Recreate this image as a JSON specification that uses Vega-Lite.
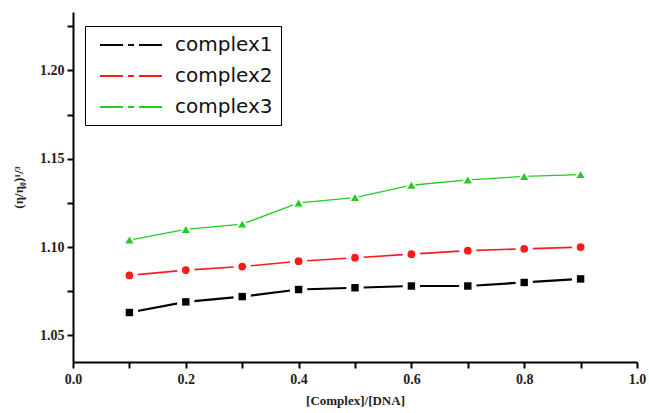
{
  "$schema": "https://vega.github.io/schema/vega-lite/v6.json",
  "width": 564,
  "height": 350,
  "autosize": {"type": "none"},
  "padding": {"left": 73, "top": 12, "right": 12, "bottom": 51},
  "background": "white",
  "config": {
    "view": {"stroke": null},
    "axis": {
      "domainColor": "black",
      "domainWidth": 2,
      "tickColor": "black",
      "tickWidth": 2,
      "tickSize": 6,
      "grid": false,
      "labelFont": "Liberation Serif",
      "labelFontWeight": "bold",
      "labelFontSize": 14,
      "labelColor": "#222222",
      "titleFont": "Liberation Serif",
      "titleFontWeight": "bold",
      "titleFontSize": 13,
      "titleColor": "#222222"
    }
  },
  "data": {
    "values": [
      {"x": 0.1, "y": 1.063, "series": "complex1"},
      {"x": 0.2, "y": 1.069, "series": "complex1"},
      {"x": 0.3, "y": 1.072, "series": "complex1"},
      {"x": 0.4, "y": 1.076, "series": "complex1"},
      {"x": 0.5, "y": 1.077, "series": "complex1"},
      {"x": 0.6, "y": 1.078, "series": "complex1"},
      {"x": 0.7, "y": 1.078, "series": "complex1"},
      {"x": 0.8, "y": 1.080, "series": "complex1"},
      {"x": 0.9, "y": 1.082, "series": "complex1"},
      {"x": 0.1, "y": 1.084, "series": "complex2"},
      {"x": 0.2, "y": 1.087, "series": "complex2"},
      {"x": 0.3, "y": 1.089, "series": "complex2"},
      {"x": 0.4, "y": 1.092, "series": "complex2"},
      {"x": 0.5, "y": 1.094, "series": "complex2"},
      {"x": 0.6, "y": 1.096, "series": "complex2"},
      {"x": 0.7, "y": 1.098, "series": "complex2"},
      {"x": 0.8, "y": 1.099, "series": "complex2"},
      {"x": 0.9, "y": 1.100, "series": "complex2"},
      {"x": 0.1, "y": 1.104, "series": "complex3"},
      {"x": 0.2, "y": 1.110, "series": "complex3"},
      {"x": 0.3, "y": 1.113, "series": "complex3"},
      {"x": 0.4, "y": 1.125, "series": "complex3"},
      {"x": 0.5, "y": 1.128, "series": "complex3"},
      {"x": 0.6, "y": 1.135, "series": "complex3"},
      {"x": 0.7, "y": 1.138, "series": "complex3"},
      {"x": 0.8, "y": 1.140, "series": "complex3"},
      {"x": 0.9, "y": 1.141, "series": "complex3"}
    ]
  },
  "encoding": {
    "x": {
      "field": "x",
      "type": "quantitative",
      "scale": {"domain": [0, 1], "nice": false, "zero": false},
      "axis": {
        "title": "[Complex]/[DNA]",
        "values": [0, 0.1, 0.2, 0.3, 0.4, 0.5, 0.6, 0.7, 0.8, 0.9, 1.0],
        "labelExpr": "round(datum.value*10)%2==0 ? format(datum.value,'.1f') : ''",
        "labelPadding": 4,
        "titlePadding": 8,
        "labelFlush": false,
        "encode": {"ticks": {"y2": {"value": {"expr": "round(datum.value*10)%2==0 ? 6 : 3"}}}}
      }
    },
    "y": {
      "field": "y",
      "type": "quantitative",
      "scale": {"domain": [1.035, 1.233], "nice": false, "zero": false},
      "axis": {
        "title": "(η/η₀)¹/³",
        "values": [1.05, 1.075, 1.1, 1.125, 1.15, 1.175, 1.2, 1.225],
        "labelExpr": "round(datum.value*1000)%50==0 ? format(datum.value,'.2f') : ''",
        "labelPadding": 3,
        "titlePadding": 14,
        "encode": {"ticks": {"x2": {"value": {"expr": "round(datum.value*1000)%50==0 ? -6 : -3"}}}}
      }
    },
    "color": {
      "field": "series",
      "type": "nominal",
      "scale": {"domain": ["complex1", "complex2", "complex3"], "range": ["#000000", "#ff1a1a", "#22cc22"]},
      "legend": null
    }
  },
  "layer": [
    {
      "transform": [{"filter": "datum.series === 'complex1'"}],
      "mark": {"type": "line", "strokeWidth": 2.2},
      "encoding": {
        "color": {
          "field": "series",
          "type": "nominal",
          "legend": {
            "title": null,
            "orient": "none",
            "legendX": 12,
            "legendY": 14,
            "strokeColor": "black",
            "padding": 8,
            "fillColor": "white",
            "symbolType": "M-3.1,0H-0.8M-0.3,0H0.3M0.8,0H3.1",
            "symbolSize": 400,
            "symbolOffset": 27,
            "symbolStrokeWidth": 2,
            "labelOffset": 33,
            "rowPadding": 10,
            "labelFont": "DejaVu Sans",
            "labelFontSize": 20,
            "labelColor": "#111111",
            "labelLimit": 300
          }
        }
      }
    },
    {
      "transform": [{"filter": "datum.series === 'complex2'"}],
      "mark": {"type": "line", "strokeWidth": 1.6}
    },
    {
      "transform": [{"filter": "datum.series === 'complex3'"}],
      "mark": {"type": "line", "strokeWidth": 1.3}
    },
    {
      "transform": [{"filter": "datum.series === 'complex1'"}],
      "mark": {"type": "point", "shape": "square", "filled": true, "opacity": 1},
      "encoding": {"color": {"value": "white"}, "size": {"value": 300}}
    },
    {
      "transform": [{"filter": "datum.series === 'complex2'"}],
      "mark": {"type": "point", "shape": "circle", "filled": true, "opacity": 1},
      "encoding": {"color": {"value": "white"}, "size": {"value": 300}}
    },
    {
      "transform": [{"filter": "datum.series === 'complex3'"}],
      "mark": {"type": "point", "shape": "triangle-up", "filled": true, "opacity": 1},
      "encoding": {"color": {"value": "white"}, "size": {"value": 300}}
    },
    {
      "transform": [{"filter": "datum.series === 'complex1'"}],
      "mark": {"type": "point", "shape": "square", "filled": true, "opacity": 1},
      "encoding": {"size": {"value": 55}}
    },
    {
      "transform": [{"filter": "datum.series === 'complex2'"}],
      "mark": {"type": "point", "shape": "circle", "filled": true, "opacity": 1},
      "encoding": {"size": {"value": 60}}
    },
    {
      "transform": [{"filter": "datum.series === 'complex3'"}],
      "mark": {"type": "point", "shape": "triangle-up", "filled": true, "opacity": 1},
      "encoding": {"size": {"value": 65}}
    }
  ]
}
